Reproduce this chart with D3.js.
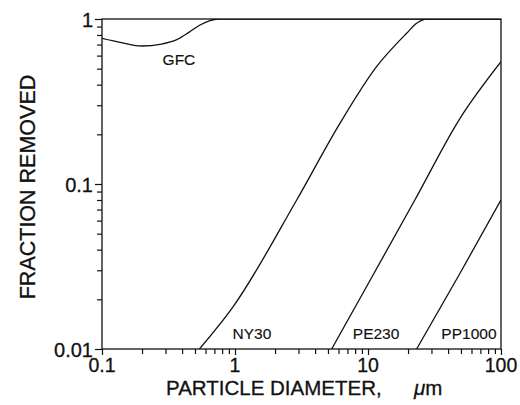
<!DOCTYPE html>
<html>
<head>
<meta charset="utf-8">
<script src="https://cdn.jsdelivr.net/npm/d3@7"></script>
<style>
  html, body { margin: 0; padding: 0; background: #fff; }
  svg { display: block; }
  text { font-family: "Liberation Sans", Arial, Helvetica, sans-serif; fill: #111; stroke: #111; stroke-width: 0.3px; }
</style>
</head>
<body>
<svg id="chart" width="520" height="405"></svg>
<script>
// Filter removal efficiency vs. particle diameter (log-log)
const xTickValues = [0.1, 1, 10, 100];
const xTickLabels = ["0.1", "1", "10", "100"];
const yTickValues = [0.01, 0.1, 1];
const yTickLabels = ["0.01", "0.1", "1"];

// Series: diameter (µm) and fraction removed
const gfcX = [0.1, 0.14, 0.199, 0.28, 0.365, 0.45, 0.546, 0.64, 0.75, 1.0, 100];
const gfcY = [0.764, 0.72, 0.686, 0.705, 0.75, 0.83, 0.92, 0.975, 1.0, 1.0, 1.0];

const ny30X = [0.54, 0.966, 2.91, 6.15, 11.6, 19.5, 23.2, 27.6, 100];
const ny30Y = [0.01, 0.018, 0.080, 0.233, 0.514, 0.819, 0.942, 1.0, 1.0];

const pe230X = [5.33, 10.35, 22.5, 49.2, 100];
const pe230Y = [0.01, 0.026, 0.080, 0.25, 0.551];

const pp1000X = [23.2, 49.2, 100];
const pp1000Y = [0.01, 0.0288, 0.080];

// Curve labels: name and anchor (diameter, fraction) at text baseline centre
const labelNames = ["GFC", "NY30", "PE230", "PP1000"];
const labelX = [0.379, 1.34, 11.5, 57.4];
const labelY = [0.526, 0.0115, 0.0115, 0.0115];

const W = 520, H = 405;
const margin = { left: 102, right: 19, top: 19, bottom: 56 };
const x = d3.scaleLog().domain([0.1, 100]).range([margin.left, W - margin.right]);
const y = d3.scaleLog().domain([0.01, 1]).range([H - margin.bottom, margin.top]);

const svg = d3.select("#chart");
const ink = "#111";

svg.append("defs").append("clipPath").attr("id", "plotClip")
  .append("rect")
  .attr("x", x(0.1)).attr("y", y(1))
  .attr("width", x(100) - x(0.1)).attr("height", y(0.01) - y(1));

// minor + major tick positions per decade
function logTicks(lo, hi) {
  const out = [];
  for (let e = Math.log10(lo); e < Math.log10(hi); e++) {
    for (let m = 1; m <= 9; m++) out.push(+(m * Math.pow(10, e)).toPrecision(3));
  }
  out.push(hi);
  return out;
}
const isMajor = v => Math.abs(Math.log10(v) - Math.round(Math.log10(v))) < 1e-9;

// Left axis
const yAxis = d3.axisLeft(y)
  .tickValues(logTicks(0.01, 1))
  .tickFormat(() => "")
  .tickSizeInner(5).tickSizeOuter(0);
const gy = svg.append("g").attr("transform", `translate(${x(0.1)},0)`).call(yAxis);
gy.select(".domain").remove();
gy.selectAll(".tick line").attr("stroke", ink).attr("stroke-width", 1.2)
  .attr("x2", d => isMajor(d) ? -7 : -5);

// Bottom axis
const xAxis = d3.axisBottom(x)
  .tickValues(logTicks(0.1, 100))
  .tickFormat(() => "")
  .tickSizeInner(5).tickSizeOuter(0);
const gx = svg.append("g").attr("transform", `translate(0,${y(0.01)})`).call(xAxis);
gx.select(".domain").remove();
gx.selectAll(".tick line").attr("stroke", ink).attr("stroke-width", 1.2)
  .attr("y2", d => isMajor(d) ? 6 : 5);

// Tick labels
svg.append("g").selectAll("text").data(yTickValues).join("text")
  .attr("x", x(0.1) - 9)
  .attr("y", d => y(d) + 8)
  .attr("text-anchor", "end")
  .attr("font-size", 20)
  .text((d, i) => yTickLabels[i]);

svg.append("g").selectAll("text").data(xTickValues).join("text")
  .attr("x", d => x(d))
  .attr("y", y(0.01) + 23)
  .attr("text-anchor", "middle")
  .attr("font-size", 19.5)
  .text((d, i) => xTickLabels[i]);

// Frame
svg.append("rect")
  .attr("x", x(0.1)).attr("y", y(1))
  .attr("width", x(100) - x(0.1)).attr("height", y(0.01) - y(1))
  .attr("fill", "none").attr("stroke", ink).attr("stroke-width", 1.3);

// Curves
const line = d3.line()
  .x(d => x(d[0])).y(d => y(d[1]))
  .curve(d3.curveMonotoneX);
const series = [
  [gfcX, gfcY], [ny30X, ny30Y], [pe230X, pe230Y], [pp1000X, pp1000Y]
];
svg.append("g").attr("clip-path", "url(#plotClip)")
  .selectAll("path").data(series).join("path")
  .attr("d", s => line(s[0].map((v, i) => [v, s[1][i]])))
  .attr("fill", "none").attr("stroke", ink).attr("stroke-width", 1.3);

// Curve labels
svg.append("g").selectAll("text").data(labelNames).join("text")
  .attr("x", (d, i) => x(labelX[i]))
  .attr("y", (d, i) => y(labelY[i]))
  .attr("text-anchor", "middle")
  .attr("font-size", 15.5)
  .style("stroke-width", "0.15px")
  .text(d => d);

// Axis titles
const xt = svg.append("text")
  .attr("y", 395)
  .attr("font-size", 20.5);
xt.append("tspan").attr("x", 166).text("PARTICLE DIAMETER,");
xt.append("tspan").attr("x", 414).attr("font-style", "italic").text("\u03bc");
xt.append("tspan").text("m");

svg.append("text")
  .attr("transform", `translate(35,${(y(1) + y(0.01)) / 2 + 3}) rotate(-90)`)
  .attr("text-anchor", "middle")
  .attr("font-size", 21.5)
  .text("FRACTION REMOVED");
</script>
</body>
</html>
